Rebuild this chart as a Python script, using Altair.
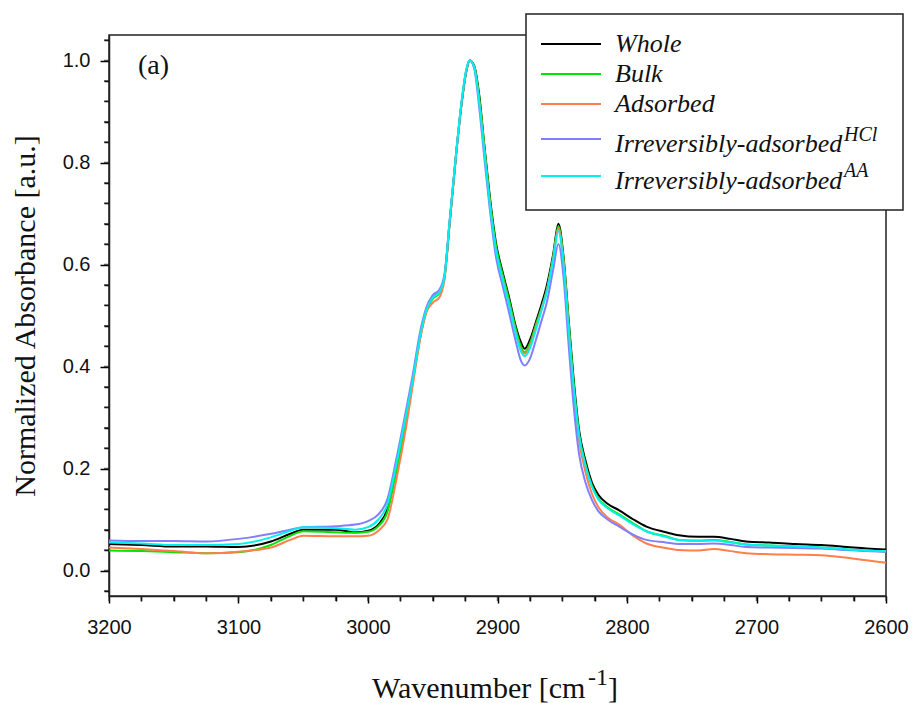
import altair as alt
import pandas as pd

# ---------------- data ----------------
wavenumber = [3200, 3175, 3150, 3125, 3100, 3075, 3060, 3050, 3025, 3010, 3000,
              2992, 2985, 2978, 2971, 2965, 2960, 2955, 2950, 2945, 2941, 2937,
              2932, 2928, 2924, 2921.5, 2918, 2914, 2910, 2906, 2901, 2896, 2891,
              2886, 2882, 2879, 2875, 2870, 2866, 2862, 2857, 2853, 2849, 2845,
              2841, 2837, 2832, 2827, 2822, 2815, 2806, 2795, 2785, 2770, 2760,
              2745, 2733, 2720, 2708, 2690, 2670, 2650, 2630, 2615, 2600]

whole = [0.052, 0.050, 0.047, 0.047, 0.046, 0.057, 0.072, 0.080, 0.080, 0.075, 0.078,
         0.090, 0.120, 0.200, 0.290, 0.380, 0.455, 0.510, 0.535, 0.545, 0.575, 0.680,
         0.815, 0.910, 0.980, 1.000, 0.990, 0.930, 0.830, 0.735, 0.640, 0.585, 0.535,
         0.480, 0.448, 0.435, 0.452, 0.490, 0.522, 0.558, 0.620, 0.680, 0.615, 0.490,
         0.370, 0.275, 0.215, 0.172, 0.148, 0.131, 0.118, 0.100, 0.086, 0.075, 0.069,
         0.066, 0.066, 0.062, 0.057, 0.055, 0.052, 0.050, 0.046, 0.043, 0.041]

bulk = [0.039, 0.038, 0.036, 0.034, 0.036, 0.050, 0.068, 0.077, 0.075, 0.074, 0.076,
        0.087, 0.115, 0.198, 0.288, 0.378, 0.453, 0.508, 0.533, 0.543, 0.573, 0.680,
        0.815, 0.910, 0.980, 1.000, 0.989, 0.925, 0.827, 0.730, 0.635, 0.580, 0.530,
        0.475, 0.440, 0.428, 0.445, 0.485, 0.515, 0.550, 0.615, 0.675, 0.610, 0.485,
        0.362, 0.268, 0.208, 0.166, 0.141, 0.124, 0.110, 0.092, 0.077, 0.067, 0.060,
        0.059, 0.060, 0.056, 0.051, 0.049, 0.047, 0.045, 0.041, 0.039, 0.037]

adsorbed = [0.045, 0.042, 0.038, 0.034, 0.037, 0.045, 0.060, 0.068, 0.067, 0.067, 0.068,
            0.078, 0.100, 0.180, 0.275, 0.370, 0.450, 0.505, 0.525, 0.535, 0.570, 0.680,
            0.815, 0.912, 0.982, 1.000, 0.987, 0.918, 0.820, 0.722, 0.625, 0.572, 0.522,
            0.468, 0.433, 0.425, 0.440, 0.480, 0.512, 0.548, 0.612, 0.670, 0.605, 0.475,
            0.350, 0.255, 0.192, 0.150, 0.124, 0.104, 0.090, 0.068, 0.053, 0.044, 0.040,
            0.039, 0.042, 0.038, 0.034, 0.032, 0.031, 0.030, 0.025, 0.020, 0.015]

irrev_hcl = [0.059, 0.058, 0.058, 0.057, 0.062, 0.072, 0.080, 0.085, 0.087, 0.090, 0.097,
             0.110, 0.140, 0.220, 0.310, 0.390, 0.465, 0.515, 0.540, 0.550, 0.580, 0.685,
             0.817, 0.912, 0.982, 1.000, 0.985, 0.905, 0.805, 0.710, 0.612, 0.558, 0.505,
             0.450, 0.412, 0.402, 0.415, 0.455, 0.490, 0.525, 0.590, 0.640, 0.575, 0.440,
             0.318, 0.228, 0.172, 0.138, 0.116, 0.100, 0.086, 0.070, 0.060, 0.055, 0.052,
             0.052, 0.053, 0.050, 0.046, 0.045, 0.044, 0.043, 0.040, 0.038, 0.037]

irrev_aa = [0.055, 0.053, 0.050, 0.050, 0.052, 0.065, 0.078, 0.085, 0.083, 0.080, 0.085,
            0.100, 0.130, 0.210, 0.300, 0.380, 0.457, 0.510, 0.535, 0.545, 0.575, 0.685,
            0.817, 0.915, 0.984, 1.000, 0.987, 0.915, 0.817, 0.720, 0.625, 0.570, 0.520,
            0.465, 0.430, 0.420, 0.435, 0.475, 0.510, 0.545, 0.610, 0.665, 0.600, 0.470,
            0.355, 0.265, 0.205, 0.164, 0.139, 0.122, 0.108, 0.090, 0.077, 0.066, 0.060,
            0.058, 0.059, 0.055, 0.051, 0.049, 0.047, 0.045, 0.041, 0.039, 0.038]

series_names = ["Whole", "Bulk", "Adsorbed", "Irreversibly-adsorbed", "Irreversibly-adsorbed"]
series_sups = ["", "", "", "HCl", "AA"]
series_values = [whole, bulk, adsorbed, irrev_hcl, irrev_aa]
series_colors = ["#000000", "#00e600", "#ff7f4a", "#8080ff", "#00f0f0"]

# all tick positions (labelled ones: every 100 cm-1 and every 0.2)
x_ticks = list(range(3200, 2599, -25))
y_ticks = [round(-0.04 + 0.04 * i, 2) for i in range(28)]

# ---------------- layout ----------------
W, H = 777, 561
SERIF = "Liberation Serif"
SANS = "Liberation Sans"
AXC = "black"

xscale = alt.Scale(domain=[3200, 2600], nice=False, zero=False)
yscale = alt.Scale(domain=[-0.05, 1.05], nice=False, zero=False)

x_is_major = "datum.value % 100 === 0"
y_is_major = "abs(datum.value * 5 - round(datum.value * 5)) < 0.001"

x_axis = alt.Axis(values=x_ticks, format="d", orient="bottom",
                  tickSize={"condition": {"test": x_is_major, "value": 7}, "value": 5},
                  tickWidth=1.5, tickColor=AXC, domainColor="#222", domainWidth=1.5,
                  labelExpr=f"{x_is_major} ? datum.label : ''", labelOverlap=False,
                  labelFont=SANS, labelFontSize=20, labelColor="#111111",
                  labelPadding=14, labelFlush=False, grid=False, title=None)
y_axis = alt.Axis(values=y_ticks, format=".1f", orient="left",
                  tickSize={"condition": {"test": y_is_major, "value": 9}, "value": 5},
                  tickWidth=1.5, tickColor=AXC, domainColor="#222", domainWidth=1.5,
                  labelExpr=f"{y_is_major} ? datum.label : ''", labelOverlap=False,
                  labelFont=SANS, labelFontSize=20, labelColor="#111111",
                  labelPadding=10, labelFlush=False, grid=False,
                  title="Normalized Absorbance [a.u.]", titleFont=SERIF,
                  titleFontSize=30, titleFontWeight="normal", titleColor="#111111",
                  titleAngle=270, titleX=-75, titleY=H / 2, titleAlign="center",
                  titleBaseline="alphabetic")

layers = []
for vals, col in zip(series_values, series_colors):
    df = pd.DataFrame({"wn": wavenumber, "a": vals})
    layers.append(
        alt.Chart(df).mark_line(color=col, strokeWidth=2, interpolate="monotone").encode(
            x=alt.X("wn:Q", scale=xscale, axis=x_axis),
            y=alt.Y("a:Q", scale=yscale, axis=y_axis),
        )
    )

# minor ticks also drawn as tick marks from the tick lists, through the shared scales
layers.append(alt.Chart(pd.DataFrame({"wn": x_ticks})).mark_tick(
    color="#222", thickness=1.5, size=5, orient="vertical").encode(
    x=alt.X("wn:Q", scale=xscale, axis=x_axis), y=alt.value(H + 2.5)))
layers.append(alt.Chart(pd.DataFrame({"a": y_ticks})).mark_tick(
    color="#222", thickness=1.5, size=5, orient="horizontal").encode(
    y=alt.Y("a:Q", scale=yscale, axis=y_axis), x=alt.value(-2.5)))


def text_layer(txt, x, y, size, font=SERIF, style="normal", align="left"):
    return alt.Chart(pd.DataFrame({"t": [txt]})).mark_text(
        font=font, fontSize=size, fontStyle=style, align=align, baseline="alphabetic",
        color="#111111").encode(x=alt.value(x), y=alt.value(y), text="t:N")


# panel label
layers.append(text_layer("(a)", 29, 39, 28))

# x-axis title with superscript
layers.append(text_layer("Wavenumber [cm", 263, 663, 30))
layers.append(text_layer("-1", 479, 650, 24))
layers.append(text_layer("]", 499, 663, 30))

# legend box
legend_box = alt.Chart(pd.DataFrame({"k": [0]})).mark_rect(
    fill="white", stroke="#222222", strokeWidth=1.5).encode(
    x=alt.value(417), x2=alt.value(794), y=alt.value(-21), y2=alt.value(175))
layers.append(legend_box)

row_line_y = [9, 39, 69, 104, 141]
row_text_y = [17, 47, 77, 117, 154]
row_sup_y = [0, 0, 0, 106, 142]
for name, sup, col, ly, ty, sy in zip(series_names, series_sups, series_colors,
                                      row_line_y, row_text_y, row_sup_y):
    layers.append(alt.Chart(pd.DataFrame({"k": [0]})).mark_rule(color=col, strokeWidth=2).encode(
        x=alt.value(432), x2=alt.value(492), y=alt.value(ly)))
    layers.append(text_layer(name, 506, ty, 26, style="italic"))
    if sup:
        layers.append(text_layer(sup, 735, sy, 20, style="italic"))

chart = alt.layer(*layers).properties(
    width=W, height=H,
    padding={"left": 109, "top": 35, "right": 26, "bottom": 107},
    autosize=alt.AutoSizeParams(type="none"),
    background="white",
).configure_view(stroke="#222", strokeWidth=1.5)

chart.save("out.html", embed_options={"renderer": "svg", "actions": False})
